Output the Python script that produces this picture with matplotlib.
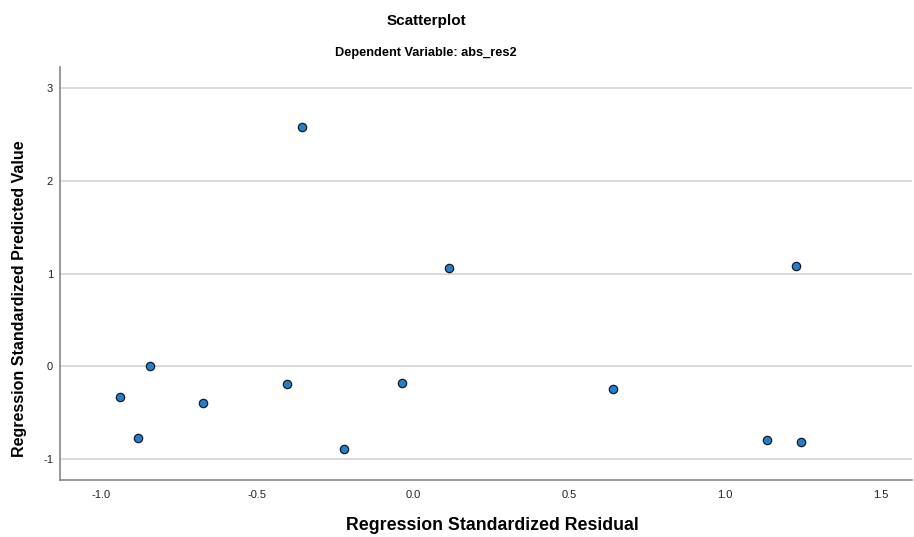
import matplotlib
matplotlib.use("Agg")
import matplotlib.pyplot as plt

plt.rcParams['font.family'] = ['Liberation Sans', 'DejaVu Sans']

# standardized residual vs standardized predicted value
std_residual = [-0.939, -0.882, -0.843, -0.674, -0.402, -0.354, -0.220,
                -0.035, 0.116, 0.640, 1.136, 1.228, 1.244]
std_predicted = [-0.334, -0.776, 0.000, -0.399, -0.194, 2.577, -0.895,
                 -0.183, 1.057, -0.248, -0.798, 1.078, -0.819]

x_ticks = [-1.0, -0.5, 0.0, 0.5, 1.0, 1.5]
y_ticks = [-1, 0, 1, 2, 3]

fig = plt.figure(figsize=(9.14, 5.37), dpi=100)
ax = fig.add_axes([0.0656, 0.1061, 0.9322, 0.7691])

ax.scatter(std_residual, std_predicted, s=36, color='#1f80d2',
           edgecolors='#1a1a1a', linewidths=0.9, zorder=3)

ax.set_xlim(-1.131, 1.599)
ax.set_ylim(-1.226, 3.226)
ax.set_xticks(x_ticks)
ax.set_xticklabels([f'{v:.1f}' for v in x_ticks])
ax.set_yticks(y_ticks)
ax.set_yticklabels([str(v) for v in y_ticks])
ax.tick_params(axis='x', length=0, labelsize=8, colors='#222222', pad=7)
ax.tick_params(axis='y', length=0, labelsize=8, colors='#222222', pad=5)

ax.yaxis.grid(True, color='#d4d4d4', linewidth=1.2)
ax.set_axisbelow(True)
for side in ['top', 'right']:
    ax.spines[side].set_visible(False)
for side in ['left', 'bottom']:
    ax.spines[side].set_color('#888888')
    ax.spines[side].set_linewidth(1.2)

fig.text(0.466, 0.9534, 'Scatterplot', ha='center', va='baseline',
         fontsize=11, fontweight='bold')
fig.text(0.466, 0.8957, 'Dependent Variable: abs_res2', ha='center',
         va='baseline', fontsize=9.2, fontweight='bold')
ax.set_xlabel('Regression Standardized Residual', fontsize=12.8,
              fontweight='bold')
ax.xaxis.set_label_coords(0.507, -0.090)
ax.set_ylabel('Regression Standardized Predicted Value', fontsize=11.5,
              fontweight='bold')
ax.yaxis.set_label_coords(-0.039, 0.44)

fig.savefig('out.png', dpi=100)
plt.close(fig)
